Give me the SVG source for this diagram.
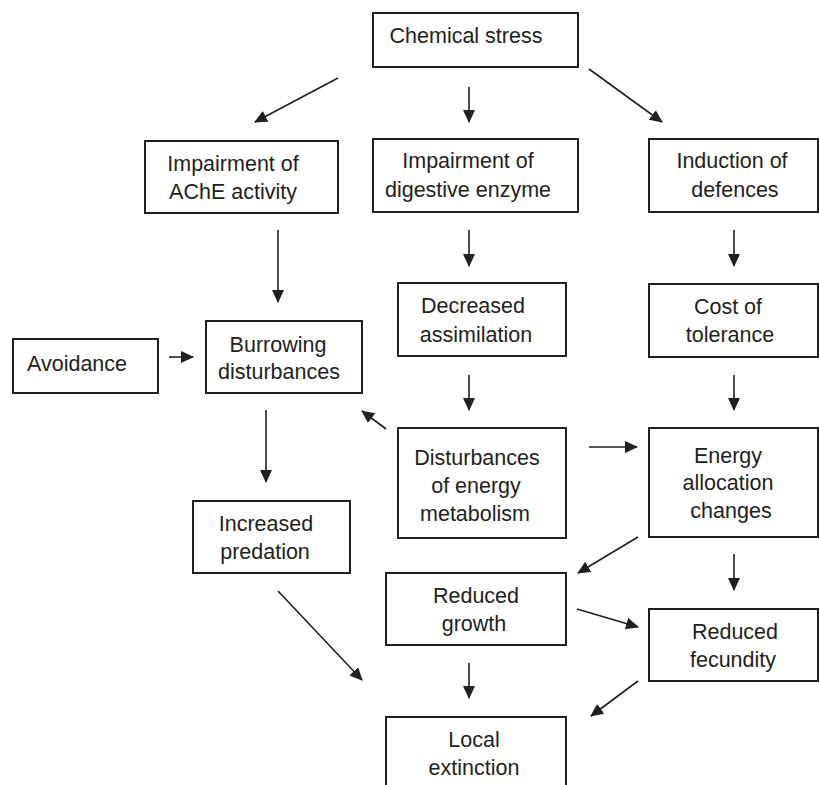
<svg xmlns="http://www.w3.org/2000/svg" width="819" height="785" viewBox="0 0 819 785">
<defs>
<marker id="ah" markerUnits="userSpaceOnUse" markerWidth="13" markerHeight="12" refX="12" refY="6" orient="auto">
<path d="M0,0 L13,6 L0,12 z" fill="#231f20"/>
</marker>
<style>
rect{fill:#fff;stroke:#231f20;stroke-width:2}
text{font-family:"Liberation Sans",Arial,sans-serif;font-size:21.5px;fill:#231f20;text-anchor:middle}
#connectors line{stroke:#231f20;stroke-width:1.6;marker-end:url(#ah)}
</style>
</defs>
<rect x="0" y="0" width="819" height="785" style="fill:#fff;stroke:none"/>
<g id="chemical-stress"><rect x="373" y="13" width="205" height="54"/><text x="466" y="43">Chemical stress</text></g>
<g id="ache"><rect x="145" y="141" width="193" height="72"/><text x="233" y="171">Impairment of</text><text x="233" y="199">AChE activity</text></g>
<g id="digestive"><rect x="373" y="139" width="205" height="73"/><text x="468" y="168">Impairment of</text><text x="468" y="197">digestive enzyme</text></g>
<g id="defences"><rect x="649" y="139" width="169" height="73"/><text x="732" y="168">Induction of</text><text x="735" y="197">defences</text></g>
<g id="assimilation"><rect x="398" y="283" width="168" height="73"/><text x="473" y="313">Decreased</text><text x="476" y="342">assimilation</text></g>
<g id="tolerance"><rect x="649" y="284" width="169" height="73"/><text x="728" y="314">Cost of</text><text x="730" y="342">tolerance</text></g>
<g id="avoidance"><rect x="13" y="339" width="145" height="54"/><text x="77" y="371">Avoidance</text></g>
<g id="burrowing"><rect x="206" y="321" width="156" height="72"/><text x="278" y="352">Burrowing</text><text x="279" y="379">disturbances</text></g>
<g id="energy-metabolism"><rect x="398" y="428" width="168" height="110"/><text x="477" y="465">Disturbances</text><text x="476" y="493">of energy</text><text x="475" y="521">metabolism</text></g>
<g id="energy-allocation"><rect x="649" y="428" width="169" height="109"/><text x="728" y="463">Energy</text><text x="728" y="490">allocation</text><text x="731" y="518">changes</text></g>
<g id="predation"><rect x="193" y="501" width="157" height="72"/><text x="266" y="531">Increased</text><text x="265" y="559">predation</text></g>
<g id="growth"><rect x="386" y="573" width="180" height="72"/><text x="476" y="603">Reduced</text><text x="474" y="631">growth</text></g>
<g id="fecundity"><rect x="649" y="609" width="169" height="72"/><text x="735" y="639">Reduced</text><text x="733" y="667">fecundity</text></g>
<g id="extinction"><rect x="386" y="717" width="180" height="90"/><text x="474" y="747">Local</text><text x="474" y="775">extinction</text></g>
<g id="connectors">
<line x1="338" y1="78" x2="255" y2="122"/>
<line x1="469" y1="87" x2="469" y2="122"/>
<line x1="589" y1="69" x2="662" y2="122"/>
<line x1="278" y1="230" x2="278" y2="302"/>
<line x1="469" y1="230" x2="469" y2="266"/>
<line x1="734" y1="230" x2="734" y2="266"/>
<line x1="169" y1="357" x2="193" y2="357"/>
<line x1="469" y1="375" x2="469" y2="410"/>
<line x1="734" y1="375" x2="734" y2="410"/>
<line x1="386" y1="429" x2="362" y2="411"/>
<line x1="266" y1="410" x2="266" y2="482"/>
<line x1="589" y1="447" x2="637" y2="447"/>
<line x1="638" y1="537" x2="578" y2="573"/>
<line x1="734" y1="554" x2="734" y2="590"/>
<line x1="577" y1="609" x2="638" y2="627"/>
<line x1="278" y1="591" x2="362" y2="680"/>
<line x1="469" y1="663" x2="469" y2="698"/>
<line x1="638" y1="681" x2="591" y2="716"/>
</g>
</svg>
